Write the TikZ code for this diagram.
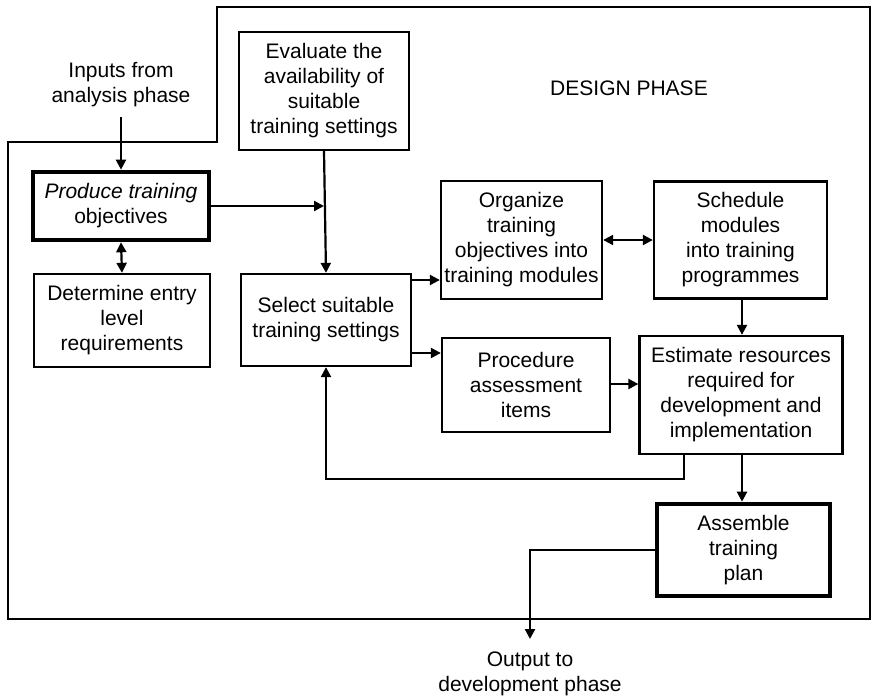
\documentclass[tikz,border=0pt]{standalone}
\usepackage{fontspec}
\setmainfont{Liberation Sans}
\usetikzlibrary{arrows.meta}
\newcommand\fsz{\fontsize{21}{25}\selectfont}
\tikzset{
  box/.style={draw, line width=2.3pt, align=center, inner sep=0pt, font=\fsz},
  thickbox/.style={box, line width=4.6pt},
  lbl/.style={align=center, inner sep=0pt, font=\fsz},
  arr/.style={line width=2.2pt, -{Triangle[length=10pt,width=10pt]}},
  darr/.style={line width=2.2pt, {Triangle[length=10pt,width=10pt]}-{Triangle[length=10pt,width=10pt]}},
  ln/.style={line width=2.4pt},
}
\begin{document}
\begin{tikzpicture}[x=1pt,y=-1pt]
\useasboundingbox (0,0) rectangle (874,698);
% frame
\draw[ln] (8,142) -- (217,142) -- (217,7) -- (870,7) -- (870,619) -- (8,619) -- cycle;
% labels
\node[lbl] (inputs) at (121,85) {Inputs from\\analysis phase};
\node[lbl] (phase) at (629,88) {DESIGN PHASE};
\node[lbl] (output) at (530,674) {Output to\\development phase};
% boxes
\node[thickbox, minimum width=176pt, minimum height=68pt] (produce) at (121,206) {\textit{Produce training}\\objectives};
\node[box, minimum width=176pt, minimum height=93pt] (determine) at (122,320.5) {Determine entry\\level\\requirements};
\node[box, minimum width=170pt, minimum height=118pt] (evaluate) at (324,91) {Evaluate the\\availability of\\suitable\\training settings};
\node[box, minimum width=170pt, minimum height=92pt] (select) at (326,320) {Select suitable\\training settings};
\node[box, minimum width=161pt, minimum height=118pt] (organize) at (521.5,240) {Organize\\training\\objectives into\\training modules};
\node[box, minimum width=173pt, minimum height=117pt] (schedule) at (740.5,240) {Schedule\\modules\\into training\\programmes};
\node[box, minimum width=168pt, minimum height=94pt] (procedure) at (526,385) {Procedure\\assessment\\items};
\node[box, minimum width=203pt, minimum height=118pt] (estimate) at (741,395) {Estimate resources\\required for\\development and\\implementation};
\node[thickbox, minimum width=173pt, minimum height=92pt] (assemble) at (743.5,550) {Assemble\\training\\plan};
% coordinates
\coordinate (inTop) at (121,117);
\coordinate (junc) at (324,206);
\coordinate (fb1) at (684,479);
\coordinate (fb2) at (326,479);
\coordinate (out1) at (530,550);
\coordinate (outEnd) at (530,639);
% connectors
\draw[arr] (inTop) -- (produce.north);
\draw[darr] (produce.south) -- (determine.north);
\draw[arr] (produce.east) -- (junc);
\draw[arr] (evaluate.south) -- (select.north);
\draw[arr] (select.east |- 0,280) -- (organize.west |- 0,280);
\draw[arr] (select.east |- 0,353) -- (procedure.west |- 0,353);
\draw[darr] (organize.east) -- (schedule.west);
\draw[arr] (schedule.south -| 742,0) -- (estimate.north -| 742,0);
\draw[arr] (procedure.east |- 0,384) -- (estimate.west |- 0,384);
\draw[arr] (estimate.south -| 742,0) -- (assemble.north -| 742,0);
\draw[arr] (estimate.south -| fb1) -- (fb1) -- (fb2) -- (select.south);
\draw[arr] (assemble.west) -- (out1) -- (outEnd);
\end{tikzpicture}
\end{document}
